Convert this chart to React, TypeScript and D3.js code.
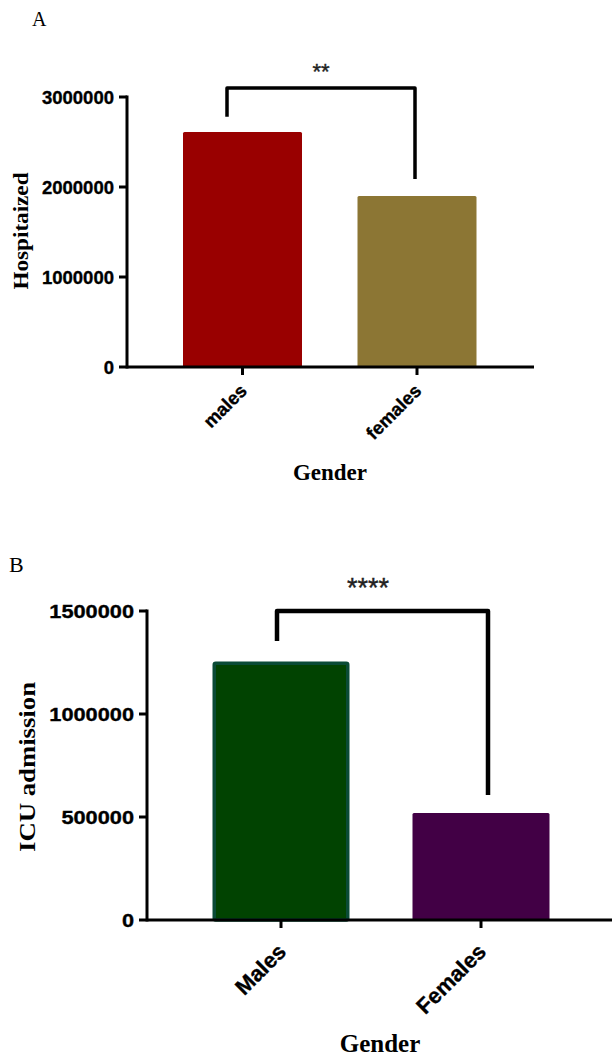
import React from 'react';
import * as d3 from 'd3';

// Panel A: hospitalized by gender
const hospCats = ['males', 'females'];
const hospValues = [2610000, 1900000];
const hospTicks = [0, 1000000, 2000000, 3000000];
const hospSig = { label: '**', top: 3100000, leftEnd: 2780000, rightEnd: 2090000 };

// Panel B: ICU admission by gender
const icuCats = ['Males', 'Females'];
const icuValues = [1255000, 520000];
const icuTicks = [0, 500000, 1000000, 1500000];
const icuSig = { label: '****', top: 1500000, leftEnd: 1354000, rightEnd: 607000 };

const SANS = '"Liberation Sans", Arial, sans-serif';
const SERIF = '"Liberation Serif", "Times New Roman", serif';

type PanelProps = {
  letter: string;
  letterPos: [number, number];
  letterSize: number;
  cats: string[];
  values: number[];
  ticks: number[];
  sig: { label: string; top: number; leftEnd: number; rightEnd: number };
  colors: string[];
  strokes: (string | null)[];
  yRange: [number, number];
  xRange: [number, number];
  axisX: number;
  axisEnd: number;
  barW: number;
  tickFont: number;
  digitW: number | null;
  labelRight: number;
  yTitle: string;
  yTitleFont: number;
  yTitleLen: number;
  yTitlePos: [number, number];
  catFont: number;
  catOffset: [number, number];
  xTitleFont: number;
  xTitlePos: [number, number];
  legOffsets: [number, number];
  sigFont: number;
  sigPos: [number, number];
  lineW: number;
  bracketW: number;
};

const Panel: React.FC<PanelProps> = (p) => {
  const y = d3.scaleLinear().domain([0, p.ticks[p.ticks.length - 1]]).range(p.yRange);
  const x = d3.scalePoint<string>().domain(p.cats).range(p.xRange);
  const y0 = y(0);

  const lx = x(p.cats[0])! + p.legOffsets[0];
  const rx = x(p.cats[1])! + p.legOffsets[1];
  const bracket = d3.line()([
    [lx, y(p.sig.leftEnd)],
    [lx, y(p.sig.top)],
    [rx, y(p.sig.top)],
    [rx, y(p.sig.rightEnd)],
  ])!;

  return (
    <g>
      <text x={p.letterPos[0]} y={p.letterPos[1]} fontFamily={SERIF} fontSize={p.letterSize}>
        {p.letter}
      </text>

      {p.cats.map((c, i) => {
        const sw = p.strokes[i] ? 3.5 : 0;
        return (
          <rect
            key={c}
            x={x(c)! - p.barW / 2 + sw / 2}
            y={y(p.values[i]) + sw / 2}
            width={p.barW - sw}
            height={y0 - y(p.values[i]) - sw / 2}
            rx={1.5}
            fill={p.colors[i]}
            stroke={p.strokes[i] ?? 'none'}
            strokeWidth={sw}
          />
        );
      })}

      {/* y axis */}
      <line x1={p.axisX} x2={p.axisX} y1={y(p.ticks[p.ticks.length - 1]) - 1.5} y2={y0 + 1.5} stroke="#000" strokeWidth={p.lineW} />
      {p.ticks.map((t) => (
        <g key={t}>
          <line x1={p.axisX - 8} x2={p.axisX} y1={y(t)} y2={y(t)} stroke="#000" strokeWidth={p.lineW} />
          <text
            x={p.labelRight}
            y={y(t)}
            dy="0.36em"
            textAnchor="end"
            fontFamily={SANS}
            fontWeight="bold"
            fontSize={p.tickFont}
            stroke="#000"
            strokeWidth={0.35}
            textLength={p.digitW ? String(t).length * p.digitW : undefined}
            lengthAdjust="spacingAndGlyphs"
          >
            {String(t)}
          </text>
        </g>
      ))}

      {/* x axis */}
      <line x1={p.axisX} x2={p.axisEnd} y1={y0} y2={y0} stroke="#000" strokeWidth={p.lineW} />
      {p.cats.map((c) => (
        <g key={c}>
          <line x1={x(c)} x2={x(c)} y1={y0} y2={y0 + 8} stroke="#000" strokeWidth={p.lineW} />
          <text
            transform={`translate(${x(c)! + p.catOffset[0]},${y0 + p.catOffset[1]}) rotate(-45)`}
            textAnchor="end"
            fontFamily={SANS}
            fontWeight="bold"
            fontSize={p.catFont}
            stroke="#000"
            strokeWidth={0.35}
          >
            {c}
          </text>
        </g>
      ))}

      <path d={bracket} fill="none" stroke="#000" strokeWidth={p.bracketW} strokeLinejoin="round" />
      <text x={p.sigPos[0]} y={p.sigPos[1]} textAnchor="middle" fontFamily={SANS} fontSize={p.sigFont} fill="#222" stroke="#222" strokeWidth={0.4}>
        {p.sig.label}
      </text>

      <text
        transform={`translate(${p.yTitlePos[0]},${p.yTitlePos[1]}) rotate(-90)`}
        textAnchor="middle"
        fontFamily={SERIF}
        fontWeight="bold"
        fontSize={p.yTitleFont}
        textLength={p.yTitleLen}
        lengthAdjust="spacingAndGlyphs"
      >
        {p.yTitle}
      </text>
      <text
        x={p.xTitlePos[0]}
        y={p.xTitlePos[1]}
        textAnchor="middle"
        fontFamily={SERIF}
        fontWeight="bold"
        fontSize={p.xTitleFont}
      >
        Gender
      </text>
    </g>
  );
};

const App: React.FC = () => {
  return (
    <div style={{ position: 'absolute', left: 0, top: 0 }}>
      <svg width={612} height={1059} style={{ display: 'block', background: '#fff' }}>
        <Panel
          letter="A"
          letterPos={[32, 26]}
          letterSize={20}
          cats={hospCats}
          values={hospValues}
          ticks={hospTicks}
          sig={hospSig}
          colors={['#990000', '#8c7634']}
          strokes={[null, null]}
          yRange={[367, 97]}
          xRange={[242.5, 417]}
          axisX={127}
          axisEnd={534}
          barW={119}
          tickFont={18.5}
          digitW={null}
          labelRight={114}
          yTitle="Hospitaized"
          yTitleFont={21}
          yTitleLen={117}
          yTitlePos={[27.5, 231]}
          catFont={18.5}
          catOffset={[5.5, 25]}
          xTitleFont={23}
          xTitlePos={[330, 480]}
          legOffsets={[-15.5, -2]}
          sigFont={22}
          sigPos={[321, 79]}
          lineW={3}
          bracketW={3.5}
        />
        <Panel
          letter="B"
          letterPos={[9, 572]}
          letterSize={22}
          cats={icuCats}
          values={icuValues}
          ticks={icuTicks}
          sig={icuSig}
          colors={['#014301', '#420045']}
          strokes={['#0a4b36', null]}
          yRange={[920, 611]}
          xRange={[281, 481]}
          axisX={147}
          axisEnd={612}
          barW={137}
          tickFont={19}
          digitW={12.1}
          labelRight={134}
          yTitle="ICU admission"
          yTitleFont={24}
          yTitleLen={170}
          yTitlePos={[35, 767]}
          catFont={22}
          catOffset={[6.5, 33]}
          xTitleFont={25}
          xTitlePos={[380, 1052]}
          legOffsets={[-4, 7]}
          sigFont={27}
          sigPos={[368, 597]}
          lineW={3}
          bracketW={4.5}
        />
      </svg>
    </div>
  );
};

export default App;
